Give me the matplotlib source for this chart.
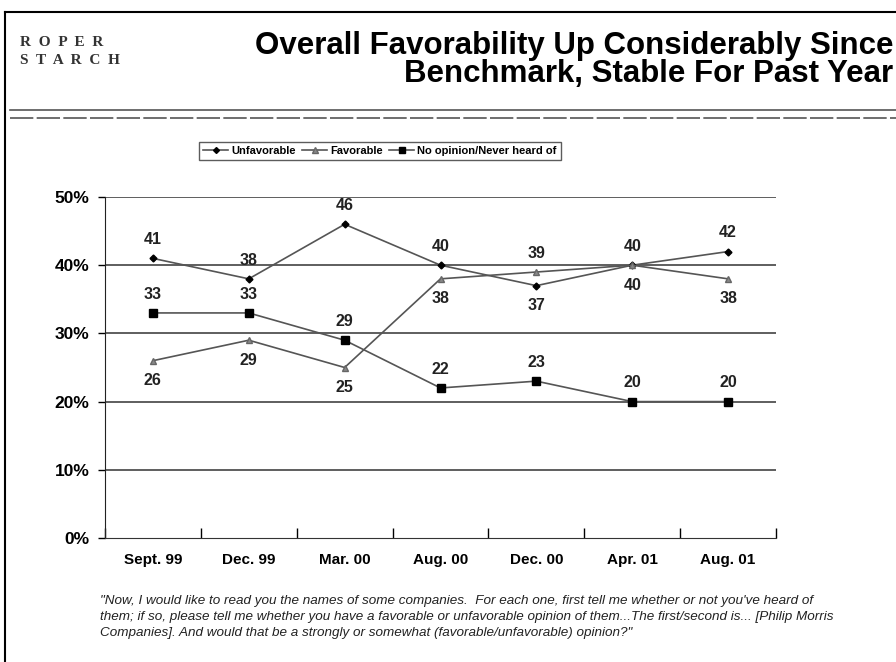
import matplotlib
matplotlib.use("Agg")
import matplotlib.pyplot as plt
from matplotlib.lines import Line2D
import numpy as np

# data
periods = ['Sept. 99', 'Dec. 99', 'Mar. 00', 'Aug. 00', 'Dec. 00', 'Apr. 01', 'Aug. 01']
unfavorable = [41, 38, 46, 40, 37, 40, 42]
favorable = [26, 29, 25, 38, 39, 40, 38]
no_opinion = [33, 33, 29, 22, 23, 20, 20]
unfav_label_above = [True, True, True, True, False, True, True]
fav_label_above = [False, False, False, False, True, False, False]

title_lines = ['Overall Favorability Up Considerably Since', 'Benchmark, Stable For Past Year']
footnote = ('"Now, I would like to read you the names of some companies.  For each one, first tell me whether or not you\'ve heard of\n'
            'them; if so, please tell me whether you have a favorable or unfavorable opinion of them...The first/second is... [Philip Morris\n'
            'Companies]. And would that be a strongly or somewhat (favorable/unfavorable) opinion?"')

plt.rcParams['font.family'] = ['Liberation Sans', 'DejaVu Sans']

fig = plt.figure(figsize=(8.96, 6.62), dpi=100)
ax = fig.add_axes([105 / 896, 1 - 538 / 662, 671 / 896, 341 / 662])

x = np.arange(len(periods))
lc = '#555555'
ax.plot(x, unfavorable, color=lc, lw=1.2, marker='D', ms=3.5, mfc='black', mec='black', zorder=3)
ax.plot(x, favorable, color=lc, lw=1.2, marker='^', ms=5, mfc='#888888', mec='#666666', zorder=3)
ax.plot(x, no_opinion, color=lc, lw=1.2, marker='s', ms=5.5, mfc='black', mec='black', zorder=3)

lab = dict(ha='center', fontsize=11.5, fontweight='bold', color='#222222')


def put_label(i, v, above):
    if above:
        ax.annotate(str(v), (i, v), xytext=(0, 8), textcoords='offset points', va='bottom', **lab)
    else:
        ax.annotate(str(v), (i, v), xytext=(0, -9), textcoords='offset points', va='top', **lab)


for i in x:
    put_label(i, unfavorable[i], unfav_label_above[i])
    put_label(i, favorable[i], fav_label_above[i])
    put_label(i, no_opinion[i], True)

ax.set_xlim(-0.5, len(periods) - 0.5)
ax.set_ylim(0, 50)
ax.set_yticks(range(0, 51, 10))
ax.set_yticklabels([f'{v}%' for v in range(0, 51, 10)], fontsize=12.5, fontweight='bold')
for v in range(10, 51, 10):
    ax.axhline(v, color='#333333', lw=1.1, zorder=1)

ax.set_xticks(x)
ax.set_xticklabels(periods, fontsize=11, fontweight='bold')
ax.set_xticks(np.arange(-0.5, len(periods), 1), minor=True)
ax.tick_params(axis='x', which='major', length=0, pad=11)
ax.tick_params(axis='x', which='minor', length=7, direction='in', width=1)
ax.tick_params(axis='y', length=5, width=1, pad=6)
for s in ['top', 'right']:
    ax.spines[s].set_visible(False)
ax.spines['left'].set_color('#222222')
ax.spines['bottom'].set_color('#333333')

handles = [
    Line2D([], [], color=lc, lw=1.2, marker='D', ms=3, mfc='black', mec='black', label='Unfavorable'),
    Line2D([], [], color=lc, lw=1.2, marker='^', ms=4, mfc='#888888', mec='#666666', label='Favorable'),
    Line2D([], [], color=lc, lw=1.2, marker='s', ms=4, mfc='black', mec='black', label='No opinion/Never heard of'),
]
leg = fig.legend(handles=handles, loc='center', bbox_to_anchor=(380 / 896, 1 - 151 / 662), ncol=3,
                 frameon=True, fancybox=False, edgecolor='#333333', handlelength=2.2, handletextpad=0.3,
                 columnspacing=0.6, borderpad=0.4, prop={'size': 8, 'weight': 'bold'})
leg.get_frame().set_linewidth(1.0)

# header
fig.text(0.997, 1 - 60 / 662, '\n'.join(title_lines), ha='right', va='center', multialignment='right',
         fontsize=22.5, fontweight='bold', linespacing=0.87)
serif = ['Liberation Serif', 'DejaVu Serif']
fig.text(20 / 896, 1 - 43 / 662, 'R  O  P  E  R', ha='left', va='center', fontsize=11, fontweight='bold',
         family=serif, color='#333333')
fig.text(20 / 896, 1 - 61 / 662, 'S  T  A  R  C  H', ha='left', va='center', fontsize=11, fontweight='bold',
         family=serif, color='#333333')
fig.add_artist(Line2D([10 / 896, 1], [1 - 110 / 662] * 2, color='#555555', lw=1.2))
fig.add_artist(Line2D([10 / 896, 1], [1 - 118 / 662] * 2, color='#555555', lw=1.2, ls=(0, (14, 2))))

# page frame
fig.add_artist(Line2D([5 / 896, 5 / 896], [0, 1 - 12 / 662], color='black', lw=1.5))
fig.add_artist(Line2D([5 / 896, 1], [1 - 12 / 662] * 2, color='black', lw=1.5))

fig.text(100 / 896, 1 - 617 / 662, footnote, ha='left', va='center', fontsize=9.7, style='italic',
         linespacing=1.45, color='#222222')

fig.savefig('out.png', dpi=100)
